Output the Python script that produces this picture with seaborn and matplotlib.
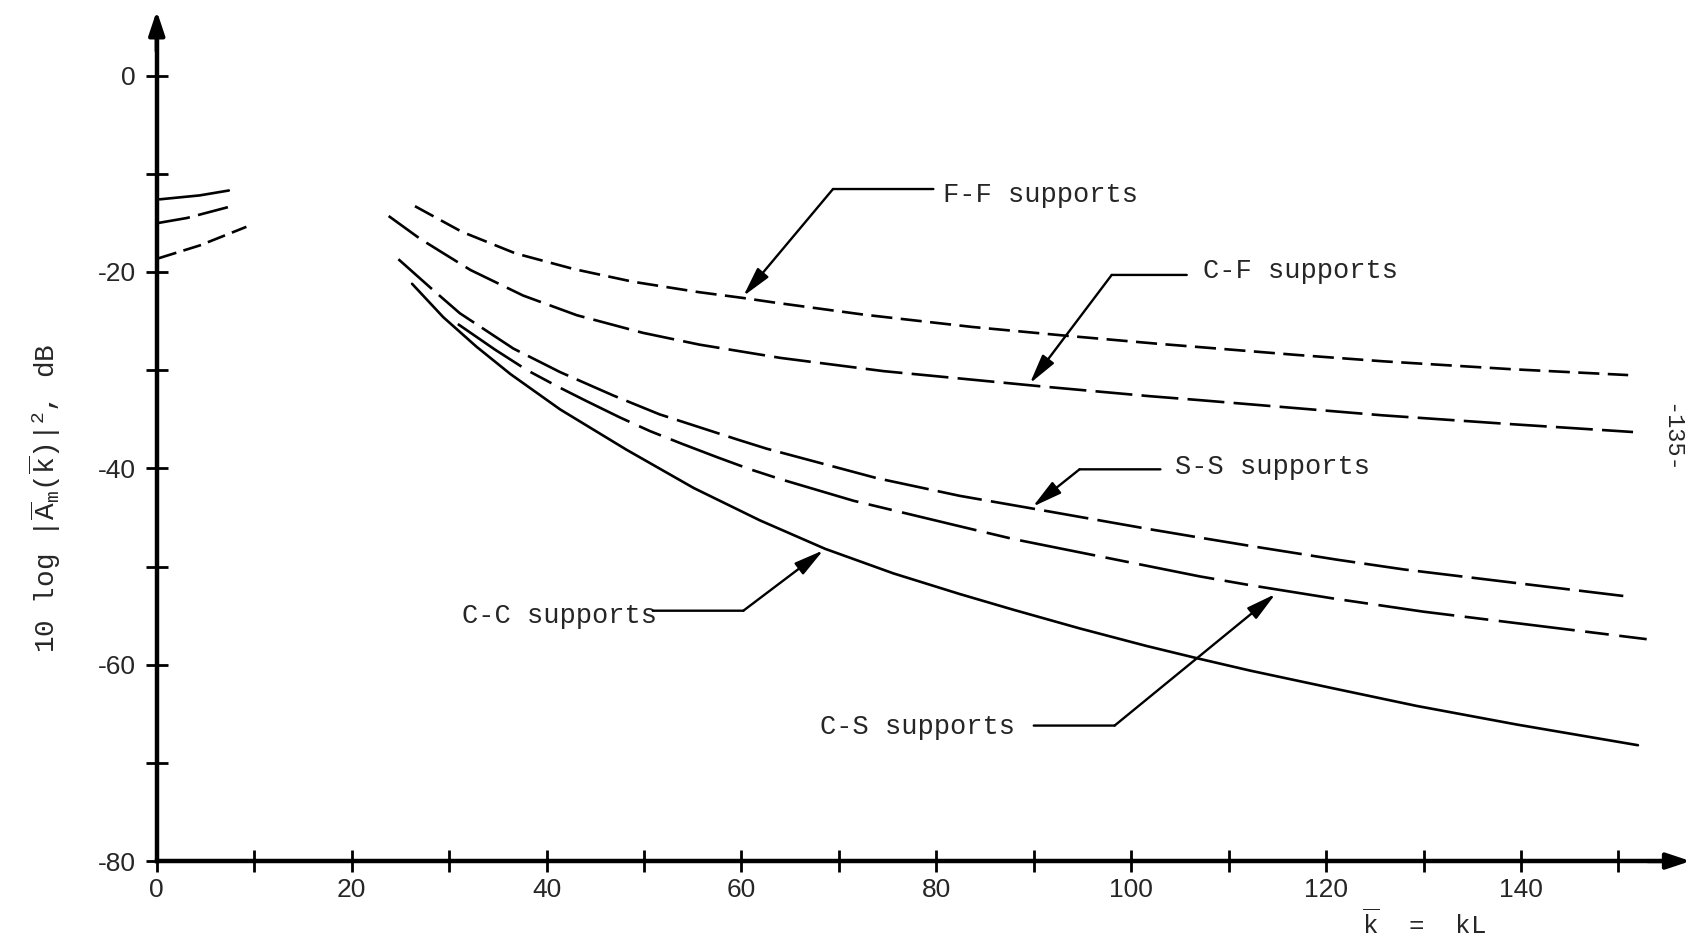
import numpy as np
import pandas as pd
import matplotlib
matplotlib.use("Agg")
import matplotlib.pyplot as plt
import seaborn as sns

# ---------------- data ----------------
ff_k = [26.5, 31.3, 36.8, 42.8, 48.9, 55.6, 60.2, 63.3, 72.6, 83.7, 93.4, 102.6, 107.0, 117.0, 125.9, 139.0, 151.0]
ff_db = [-13.3, -15.9, -18.1, -19.7, -21.0, -22.05, -22.65, -23.1, -24.35, -25.6, -26.5, -27.3, -27.65, -28.45, -29.1, -29.9, -30.5]

cf_k = [23.8, 27.0, 29.1, 32.2, 37.6, 43.1, 49.9, 55.7, 64.0, 74.6, 81.4, 91.3, 101.9, 107.0, 125.8, 139.0, 151.5]
cf_db = [-14.3, -16.6, -17.9, -19.8, -22.4, -24.4, -26.2, -27.4, -28.75, -30.1, -30.75, -31.7, -32.65, -33.05, -34.6, -35.5, -36.3]

ss_k = [24.8, 28.2, 31.1, 36.6, 41.4, 46.9, 51.6, 59.7, 62.6, 73.9, 82.4, 89.9, 101.9, 107.0, 112.2, 121.1, 128.0, 150.5]
ss_db = [-18.7, -21.7, -24.2, -27.8, -30.2, -32.6, -34.5, -37.1, -38.0, -41.0, -42.8, -44.1, -46.2, -47.05, -47.9, -49.3, -50.3, -53.0]

cs_k = [30.9, 34.7, 38.0, 41.4, 44.0, 47.5, 50.6, 53.9, 57.6, 60.9, 64.0, 71.5, 82.4, 87.9, 107.0, 112.2, 120.7, 130.0, 152.9]
cs_db = [-25.3, -27.9, -30.0, -31.8, -33.1, -34.8, -36.2, -37.5, -38.9, -40.1, -41.1, -43.3, -45.9, -47.2, -51.0, -51.9, -53.25, -54.6, -57.4]

cc_k = [26.2, 29.4, 32.8, 36.3, 41.4, 48.2, 55.1, 61.9, 68.6, 75.6, 82.4, 87.9, 94.7, 101.6, 107.0, 112.2, 120.7, 129.3, 139.6, 152.0]
cc_db = [-21.2, -24.6, -27.6, -30.4, -34.0, -38.1, -42.0, -45.3, -48.2, -50.7, -52.8, -54.4, -56.3, -58.1, -59.4, -60.6, -62.4, -64.2, -66.1, -68.2]

# low-k branches near the origin
low1_k = [0.3, 4.4, 7.4]
low1_db = [-12.6, -12.2, -11.7]
low2_k = [0.2, 3.1, 7.3]
low2_db = [-15.0, -14.5, -13.4]
low3_k = [0.2, 4.4, 9.2]
low3_db = [-18.6, -17.3, -15.4]

x_ticks = [0, 20, 40, 60, 80, 100, 120, 140]
y_ticks = [-80, -60, -40, -20, 0]

# annotation layout: label, text position (baseline), leader start, elbow, arrow tip
annotations = [
    ("F-F supports", (80.7, -12.85), (79.7, -11.55), (69.4, -11.55), (60.2, -22.45)),
    ("C-F supports", (107.4, -20.6), (105.7, -20.3), (98.0, -20.3), (89.6, -31.35)),
    ("S-S supports", (104.5, -40.6), (103.0, -40.1), (94.7, -40.1), (89.9, -43.9)),
    ("C-C supports", (31.3, -55.8), (50.9, -54.5), (60.2, -54.5), (68.4, -48.35)),
    ("C-S supports", (68.1, -67.1), (90.0, -66.2), (98.3, -66.2), (114.8, -52.8)),
]

# ---------------- style ----------------
sns.set_theme(style="white")
plt.rcParams['font.family'] = ['Liberation Mono', 'DejaVu Sans']
plt.rcParams['mathtext.fontset'] = 'custom'
plt.rcParams['mathtext.rm'] = 'Liberation Mono'
plt.rcParams['mathtext.it'] = 'Liberation Mono'
plt.rcParams['mathtext.bf'] = 'Liberation Mono:bold'
plt.rcParams['axes.unicode_minus'] = False

fig = plt.figure(figsize=(16.94, 9.39), dpi=100)
fig.patch.set_facecolor('white')
ax = fig.add_axes([0.07527, 0.06209, 0.92326, 0.93056])
ax.set_facecolor('white')
ax.set_xlim(-3, 157.5)
ax.set_ylim(-82, 7)

LW = 1.9
series = [
    (ff_k, ff_db, (0, (8, 3.2))),
    (cf_k, cf_db, (0, (14, 3.5))),
    (ss_k, ss_db, (0, (17, 3.5))),
    (cs_k, cs_db, (0, (29, 4, 9, 4))),
    (cc_k, cc_db, '-'),
    (low1_k, low1_db, '-'),
    (low2_k, low2_db, (0, (12, 3.2))),
    (low3_k, low3_db, (0, (7, 2.8))),
]
for k, db, ls in series:
    df = pd.DataFrame({"k": k, "db": db})
    sns.lineplot(data=df, x="k", y="db", ax=ax, color='black', linewidth=LW,
                 linestyle=ls, estimator=None, sort=False)

# axes as thick arrows
for s in ['top', 'right']:
    ax.spines[s].set_visible(False)
ax.spines['left'].set_position(('data', 0))
ax.spines['bottom'].set_position(('data', -80))
ax.spines['left'].set_bounds(-80, 4)
ax.spines['bottom'].set_bounds(0, 155)
for s in ['left', 'bottom']:
    ax.spines[s].set_linewidth(3.2)
    ax.spines[s].set_color('black')
ax.annotate('', xy=(0, 6.6), xytext=(0, 2.5),
            arrowprops=dict(arrowstyle='-|>,head_length=0.9,head_width=0.3', color='black',
                            lw=3.0, mutation_scale=16, shrinkA=0, shrinkB=0))
ax.annotate('', xy=(157.4, -80), xytext=(153, -80),
            arrowprops=dict(arrowstyle='-|>,head_length=0.9,head_width=0.3', color='black',
                            lw=3.0, mutation_scale=16, shrinkA=0, shrinkB=0))

ax.set_xticks(x_ticks)
ax.set_xticks(np.arange(0, 151, 10), minor=True)
ax.set_yticks(y_ticks)
ax.set_yticks(np.arange(-80, 1, 10), minor=True)
ax.set_xticklabels([str(v) for v in x_ticks])
ax.set_yticklabels([str(v) for v in y_ticks])
ax.tick_params(which='both', direction='inout', length=16, width=2.0, color='black',
               bottom=True, left=True)
ax.tick_params(axis='x', pad=4, labelsize=19)
ax.tick_params(axis='y', pad=7, labelsize=19)
for lab in ax.get_xticklabels() + ax.get_yticklabels():
    lab.set_family(['Liberation Sans', 'DejaVu Sans'])
ax.grid(False)

ax.set_xlabel('')
ax.set_ylabel(r'10 log $|\overline{\mathrm{A}}_{\mathrm{m}}(\overline{\mathrm{k}})|^{2}$, dB',
              fontsize=20, va='center')
ax.yaxis.set_label_coords(-0.053, 0.438)

ax.text(130.0, -86.4, r'$\overline{\mathrm{k}}$  =  kL', ha='center', va='center',
        fontsize=18.5, clip_on=False)
ax.text(155.4, -36.9, '-135-', rotation=-90, ha='center', va='center', fontsize=17)

for label, tpos, lstart, elbow, tip in annotations:
    ax.text(tpos[0], tpos[1], label, ha='left', va='baseline', fontsize=19.5)
    ax.annotate('', xy=elbow, xytext=lstart,
                arrowprops=dict(arrowstyle='-', color='black', lw=1.7, shrinkA=0, shrinkB=0))
    ax.annotate('', xy=tip, xytext=elbow,
                arrowprops=dict(arrowstyle='-|>,head_length=0.9,head_width=0.22', color='black',
                                lw=1.7, mutation_scale=20, shrinkA=0, shrinkB=0))

fig.savefig('out.png', dpi=100, facecolor='white')
